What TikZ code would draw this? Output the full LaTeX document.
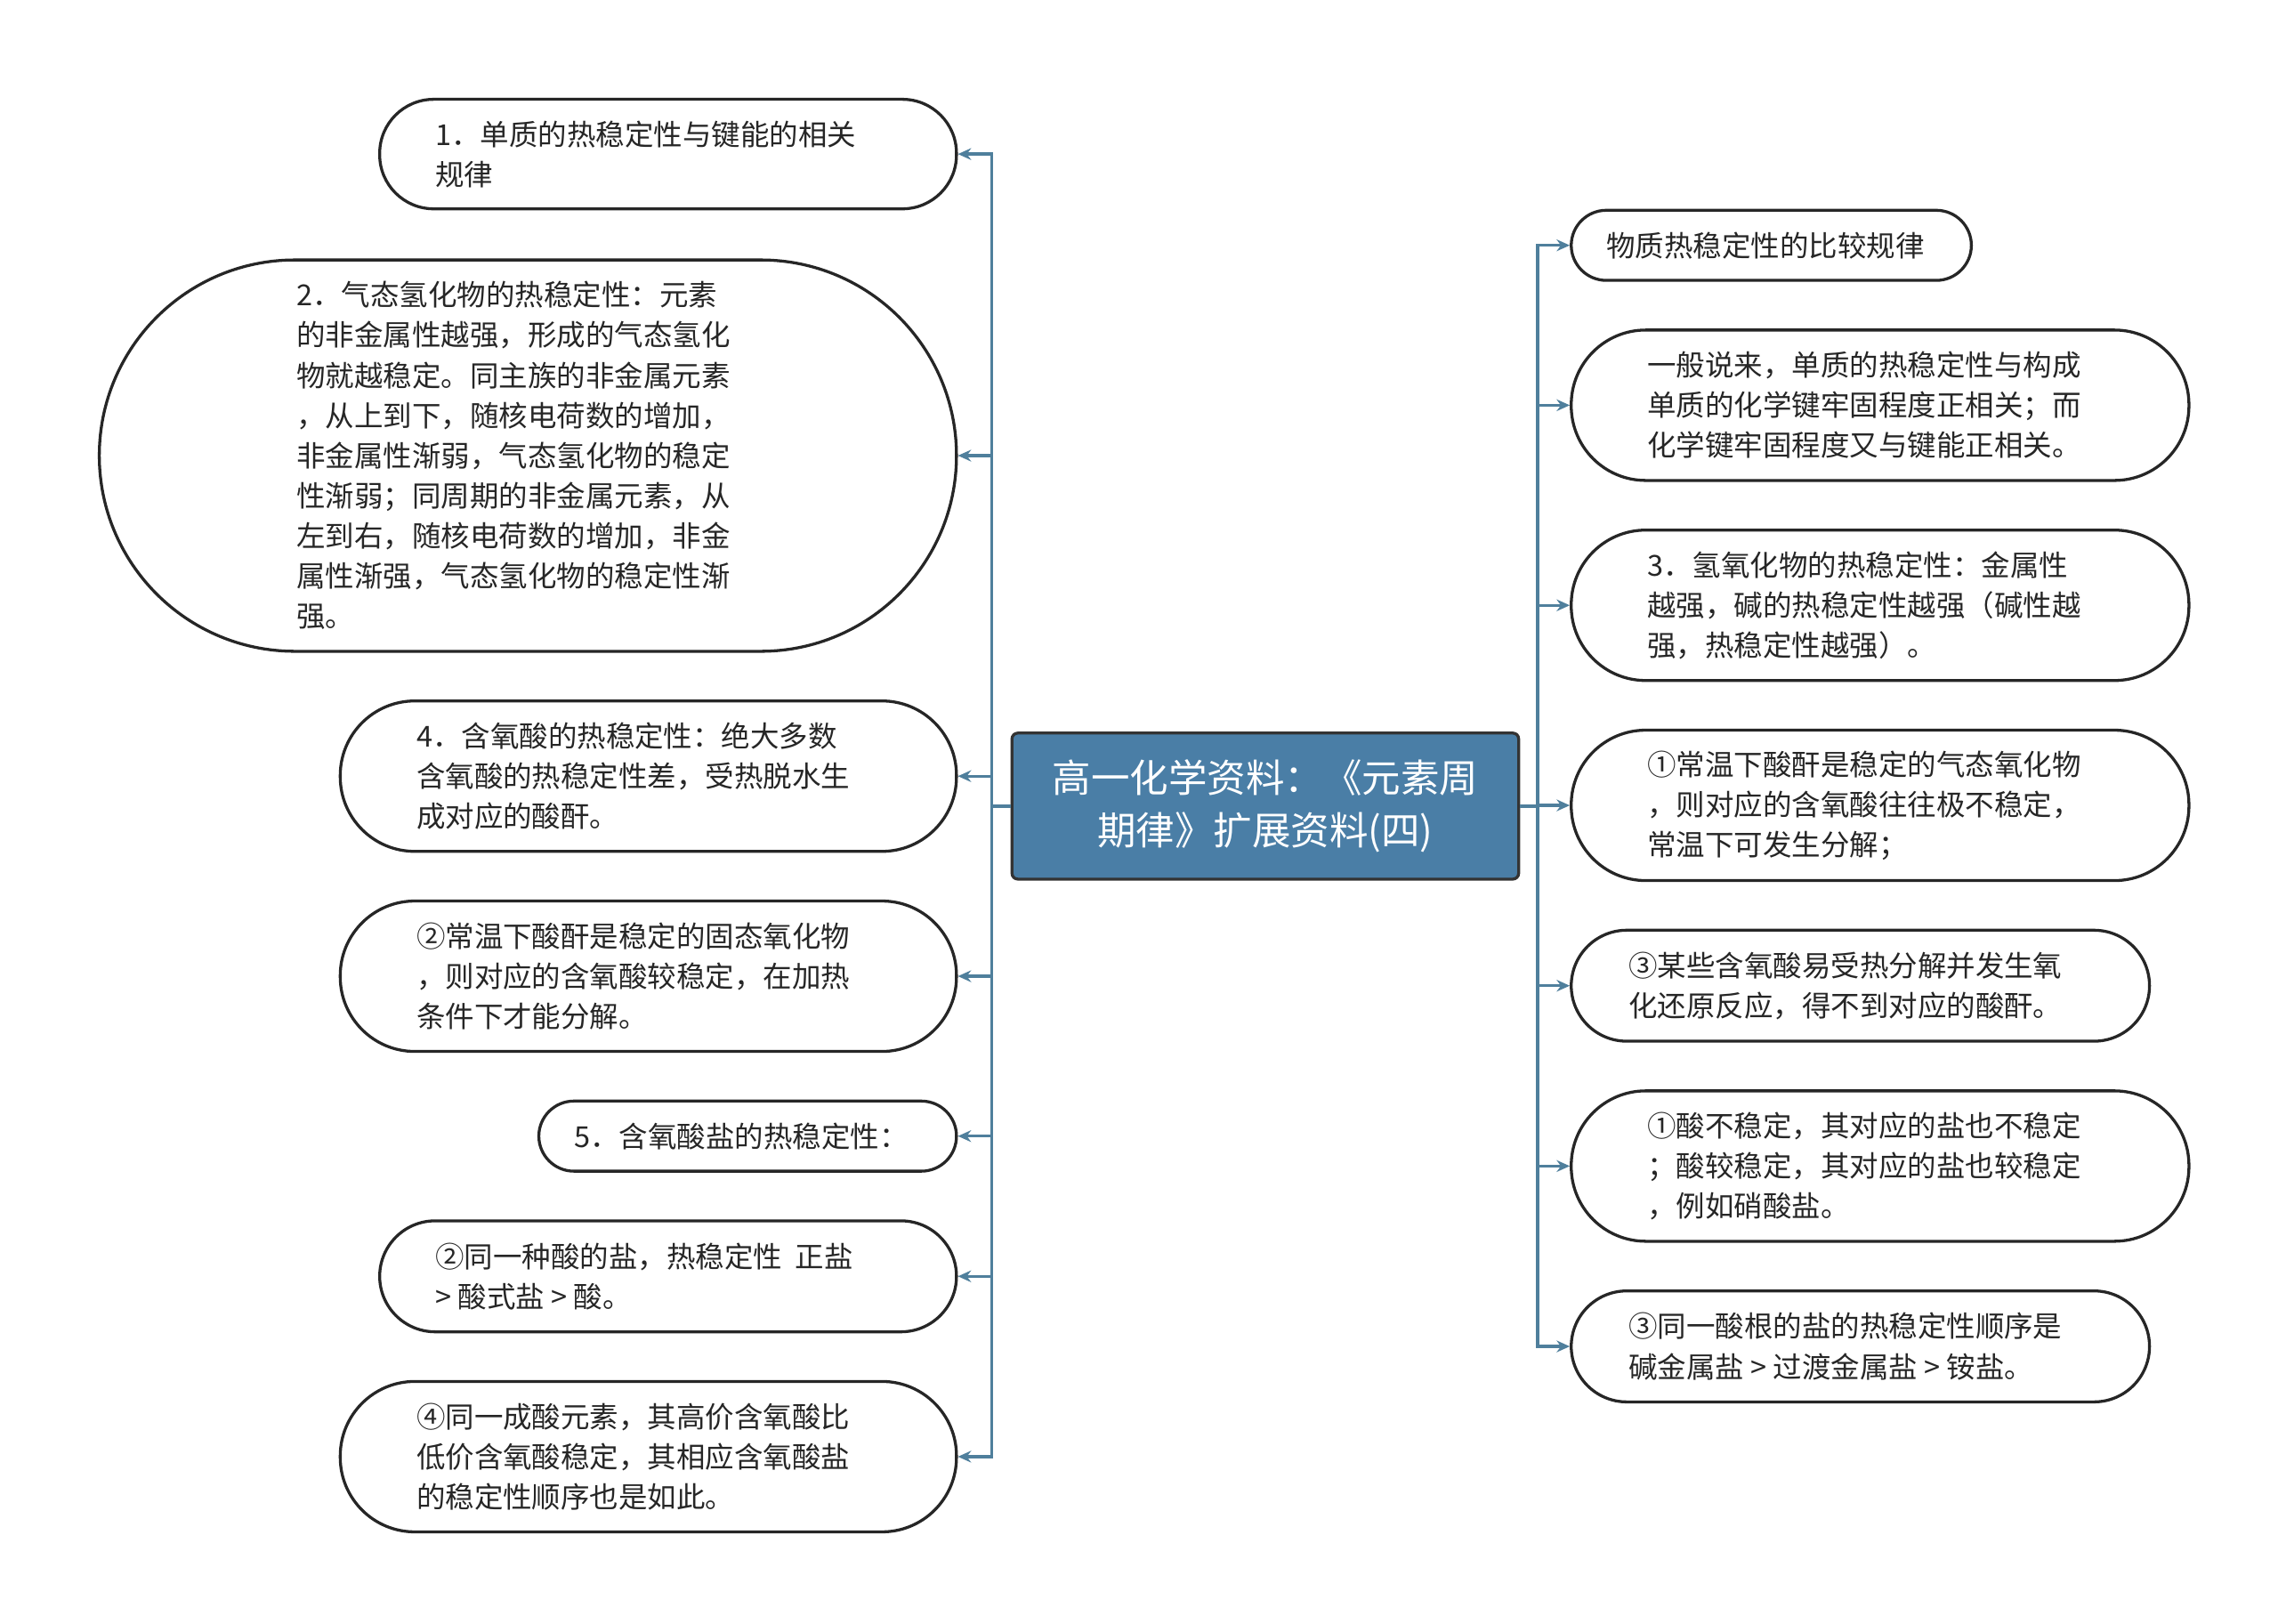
\documentclass[tikz,border=0pt]{standalone}
\usepackage{fontspec}
\setmainfont{Noto Sans CJK SC}
\usetikzlibrary{arrows.meta}
\definecolor{cbox}{HTML}{4A7EA6}
\definecolor{cline}{HTML}{4F7F9C}
\tikzset{
 pill/.style={draw=black!85, line width=2pt, fill=white, inner sep=0pt},
 txt/.style={anchor=west, align=left, inner sep=0pt, font=\fontsize{19.8pt}{27.5pt}\selectfont, text=black!85},
 conn/.style={draw=cline, line width=2pt, -{Stealth[length=9pt,width=8pt]}},
}
\begin{document}
\begin{tikzpicture}[x=1pt,y=-1pt]
\useasboundingbox (0,0) rectangle (1560,1112);
\fill[white] (0,0) rectangle (1560,1112);
% center
\node[draw=black!80, line width=2pt, fill=cbox, rounded corners=4pt, minimum width=347pt, minimum height=100pt, text=white, align=center, font=\fontsize{26.5pt}{36pt}\selectfont] (c) at (866.5,552) {高一化学资料：《元素周\\期律》扩展资料(四)};
\coordinate (lt) at (679,552);
\coordinate (rt) at (1053,552);
% left nodes
\node[pill, rounded corners=37pt, minimum width=395pt, minimum height=75pt] (l1) at (457.5,105.5) {};
\node[txt] at (298,105.5) {1．单质的热稳定性与键能的相关\\规律};
\node[pill, rounded corners=134pt, minimum width=587pt, minimum height=268pt] (l2) at (361.5,312) {};
\node[txt] at (203,312) {2．气态氢化物的热稳定性：元素\\的非金属性越强，形成的气态氢化\\物就越稳定。同主族的非金属元素\\，从上到下，随核电荷数的增加，\\非金属性渐弱，气态氢化物的稳定\\性渐弱；同周期的非金属元素，从\\左到右，随核电荷数的增加，非金\\属性渐强，气态氢化物的稳定性渐\\强。};
\node[pill, rounded corners=51pt, minimum width=422pt, minimum height=103pt] (l3) at (444,531.5) {};
\node[txt] at (285,531.5) {4．含氧酸的热稳定性：绝大多数\\含氧酸的热稳定性差，受热脱水生\\成对应的酸酐。};
\node[pill, rounded corners=51pt, minimum width=422pt, minimum height=103pt] (l4) at (444,668.5) {};
\node[txt] at (285,668.5) {②常温下酸酐是稳定的固态氧化物\\，则对应的含氧酸较稳定，在加热\\条件下才能分解。};
\node[pill, rounded corners=24pt, minimum width=286pt, minimum height=48pt] (l5) at (512,778) {};
\node[txt] at (393,778) {5．含氧酸盐的热稳定性：};
\node[pill, rounded corners=38pt, minimum width=395pt, minimum height=76pt] (l6) at (457.5,874) {};
\node[txt] at (298,874) {②同一种酸的盐，热稳定性 \ 正盐\\ > 酸式盐 > 酸。};
\node[pill, rounded corners=51pt, minimum width=422pt, minimum height=103pt] (l7) at (444,997.5) {};
\node[txt] at (285,997.5) {④同一成酸元素，其高价含氧酸比\\低价含氧酸稳定，其相应含氧酸盐\\的稳定性顺序也是如此。};
% right nodes
\node[pill, rounded corners=24pt, minimum width=274pt, minimum height=48pt] (r1) at (1213,168) {};
\node[txt] at (1100,168) {物质热稳定性的比较规律};
\node[pill, rounded corners=51pt, minimum width=423pt, minimum height=103pt] (r2) at (1287.5,277.5) {};
\node[txt] at (1128,277.5) {一般说来，单质的热稳定性与构成\\单质的化学键牢固程度正相关；而\\化学键牢固程度又与键能正相关。};
\node[pill, rounded corners=51pt, minimum width=423pt, minimum height=103pt] (r3) at (1287.5,414.5) {};
\node[txt] at (1128,414.5) {3．氢氧化物的热稳定性：金属性\\越强，碱的热稳定性越强（碱性越\\强，热稳定性越强）。};
\node[pill, rounded corners=51pt, minimum width=423pt, minimum height=103pt] (r4) at (1287.5,551.5) {};
\node[txt] at (1128,551.5) {①常温下酸酐是稳定的气态氧化物\\，则对应的含氧酸往往极不稳定，\\常温下可发生分解；};
\node[pill, rounded corners=38pt, minimum width=396pt, minimum height=76pt] (r5) at (1274,675) {};
\node[txt] at (1115,675) {③某些含氧酸易受热分解并发生氧\\化还原反应，得不到对应的酸酐。};
\node[pill, rounded corners=51pt, minimum width=423pt, minimum height=103pt] (r6) at (1287.5,798.5) {};
\node[txt] at (1128,798.5) {①酸不稳定，其对应的盐也不稳定\\；酸较稳定，其对应的盐也较稳定\\，例如硝酸盐。};
\node[pill, rounded corners=38pt, minimum width=396pt, minimum height=76pt] (r7) at (1274,922) {};
\node[txt] at (1115,922) {③同一酸根的盐的热稳定性顺序是\\碱金属盐 > 过渡金属盐 > 铵盐。};
% connectors
\draw[draw=cline, line width=2pt] (c.west) -- (lt);
\draw[draw=cline, line width=2pt] (c.east) -- (rt);
\foreach \n in {l1,l2,l3,l4,l5,l6,l7} \draw[conn] (lt) |- (\n.east);
\foreach \n in {r1,r2,r3,r4,r5,r6,r7} \draw[conn] (rt) |- (\n.west);
\end{tikzpicture}
\end{document}
